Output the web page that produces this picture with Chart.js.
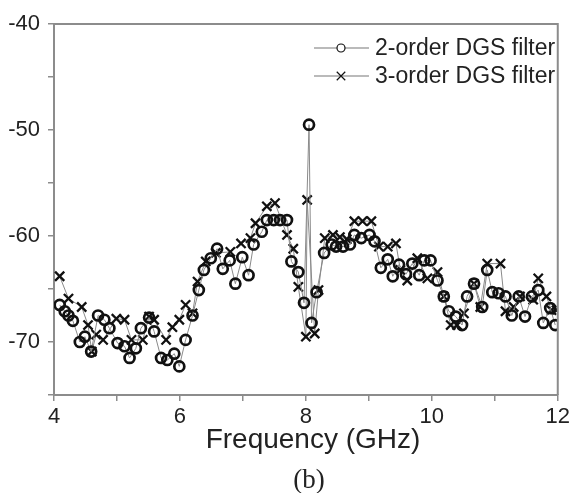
<!DOCTYPE html>
<html>
<head>
<meta charset="utf-8">
<script src="https://cdn.jsdelivr.net/npm/chart.js@4.4.0/dist/chart.umd.min.js"></script>
<style>
  html, body { margin: 0; padding: 0; background: #fff; }
</style>
</head>
<body>
<canvas id="chart" width="573" height="493"></canvas>
<script>
const freq2 = [4.09, 4.17, 4.23, 4.30, 4.41, 4.49, 4.59, 4.70, 4.80, 4.88, 5.01, 5.12, 5.20, 5.30, 5.38, 5.51,
  5.59, 5.70, 5.80, 5.91, 5.99, 6.09, 6.20, 6.30, 6.38, 6.49, 6.59, 6.68, 6.79, 6.88, 6.99, 7.09, 7.17,
  7.30, 7.38, 7.49, 7.59, 7.70, 7.77, 7.88, 7.97, 8.05, 8.09, 8.17, 8.29, 8.41, 8.48, 8.59, 8.70, 8.77,
  8.88, 9.01, 9.09, 9.19, 9.30, 9.38, 9.48, 9.59, 9.69, 9.80, 9.88, 9.98, 10.09, 10.19, 10.27, 10.38,
  10.48, 10.56, 10.67, 10.80, 10.88, 10.96, 11.06, 11.17, 11.27, 11.38, 11.48, 11.59, 11.69, 11.77,
  11.88, 11.96];
const loss2 = [-66.5, -67.1, -67.5, -68.0, -70.0, -69.5, -70.9, -67.5, -67.9, -68.7, -70.1, -70.4, -71.5, -70.6, -68.7, -67.7,
  -69.0, -71.5, -71.7, -71.1, -72.3, -69.8, -67.5, -65.1, -63.2, -62.1, -61.2, -63.1, -62.3, -64.5, -62.0, -63.7, -60.8,
  -59.6, -58.5, -58.5, -58.5, -58.5, -62.4, -63.4, -66.3, -49.5, -68.2, -65.3, -61.6, -60.8, -61.0, -61.0, -60.8, -59.9,
  -60.2, -59.9, -60.5, -63.0, -62.2, -63.8, -62.7, -63.6, -62.6, -63.7, -62.3, -62.3, -64.2, -65.7, -67.1, -67.6,
  -68.4, -65.7, -64.5, -66.7, -63.2, -65.3, -65.4, -65.7, -67.5, -65.7, -67.6, -65.7, -65.1, -68.2,
  -66.8, -68.4];

const freq3 = [4.09, 4.23, 4.44, 4.54, 4.60, 4.67, 4.78, 4.99, 5.12, 5.23, 5.41, 5.51, 5.59, 5.78, 5.88, 5.99,
  6.09, 6.20, 6.28, 6.41, 6.57, 6.80, 6.97, 7.12, 7.20, 7.38, 7.51, 7.70, 7.80, 7.88, 8.00, 8.02, 8.14,
  8.20, 8.30, 8.43, 8.54, 8.65, 8.77, 8.90, 9.04, 9.16, 9.30, 9.43, 9.50, 9.61, 9.77, 9.93, 10.09, 10.19,
  10.30, 10.40, 10.51, 10.67, 10.77, 10.88, 11.09, 11.17, 11.30, 11.40, 11.61, 11.69, 11.82, 11.90, 11.98];
const loss3 = [-63.8, -65.9, -66.7, -68.4, -70.9, -69.3, -69.8, -67.8, -67.9, -69.8, -69.8, -67.6, -67.9, -69.8, -68.6, -67.9,
  -66.5, -67.3, -64.3, -62.4, -61.6, -61.5, -60.7, -60.2, -58.8, -57.2, -56.9, -59.9, -61.2, -64.8, -69.5, -56.6, -69.2,
  -65.1, -60.2, -59.9, -60.1, -60.3, -58.6, -58.6, -58.6, -61.0, -61.0, -60.7, -63.2, -64.2, -62.1, -64.0, -63.4, -65.7,
  -68.4, -68.4, -67.3, -64.5, -66.7, -62.6, -62.6, -67.1, -66.7, -65.7, -66.0, -64.0, -65.7, -67.0, -67.0];

const seriesNames = ['2-order DGS filter', '3-order DGS filter'];
const xTicks = [4, 6, 8, 10, 12];
const yTicks = [-40, -50, -60, -70];

const frameColor = '#8c8c8c';
const sans = '"Liberation Sans", Arial, sans-serif';

const toPoints = (xs, ys) => xs.map((x, i) => ({ x: x, y: ys[i] }));

// box round the plot (top and right sides) plus legend and axis captions
const decorations = {
  id: 'decorations',
  afterDraw(chart) {
    const ctx = chart.ctx;
    const a = chart.chartArea;
    ctx.save();
    ctx.strokeStyle = frameColor;
    ctx.lineWidth = 2;
    ctx.beginPath();
    ctx.moveTo(a.left, a.top);
    ctx.lineTo(a.right, a.top);
    ctx.lineTo(a.right, a.bottom);
    ctx.stroke();

    // legend: line - marker - line, then the name
    chart.data.datasets.forEach((ds, i) => {
      const y = 48 + i * 28;
      ctx.strokeStyle = '#777';
      ctx.lineWidth = 1.2;
      ctx.beginPath();
      ctx.moveTo(314, y);
      ctx.lineTo(369, y);
      ctx.stroke();
      ctx.strokeStyle = '#111';
      ctx.fillStyle = '#fff';
      Chart.helpers.drawPoint(ctx, {
        pointStyle: ds.pointStyle,
        radius: ds.pointStyle === 'circle' ? 4 : 6,
        borderWidth: ds.pointStyle === 'circle' ? 2.4 : 1.6,
        rotation: 0
      }, 341, y);
      ctx.fillStyle = '#222';
      ctx.font = '23px ' + sans;
      ctx.textAlign = 'left';
      ctx.textBaseline = 'middle';
      ctx.fillText(ds.label, 375, y + 1);
    });

    ctx.fillStyle = '#222';
    ctx.textAlign = 'center';
    ctx.textBaseline = 'middle';
    ctx.font = '28px ' + sans;
    ctx.fillText('Frequency (GHz)', 313, 440);
    ctx.font = '27px "Liberation Serif", "Times New Roman", serif';
    ctx.fillText('(b)', 309, 481);
    ctx.restore();
  }
};

const ctx = document.getElementById('chart').getContext('2d');
new Chart(ctx, {
  type: 'line',
  data: {
    datasets: [
      {
        label: seriesNames[0],
        data: toPoints(freq2, loss2),
        borderColor: '#8a8a8a',
        borderWidth: 1,
        pointStyle: 'circle',
        pointRadius: 5,
        pointBorderWidth: 2.7,
        pointBorderColor: '#111',
        pointBackgroundColor: 'rgba(255,255,255,0)',
        tension: 0
      },
      {
        label: seriesNames[1],
        data: toPoints(freq3, loss3),
        borderColor: '#8a8a8a',
        borderWidth: 1,
        pointStyle: 'crossRot',
        pointRadius: 6.5,
        pointBorderWidth: 2.3,
        pointBorderColor: '#111',
        pointBackgroundColor: '#111',
        tension: 0
      }
    ]
  },
  options: {
    responsive: false,
    animation: false,
    devicePixelRatio: 1,
    layout: { padding: { top: 24, right: 12, left: 0, bottom: 0 } },
    plugins: {
      legend: { display: false },
      tooltip: { enabled: false }
    },
    scales: {
      x: {
        type: 'linear',
        min: 4,
        max: 12,
        afterFit: (scale) => { scale.height = 98; },
        grid: { drawOnChartArea: false, drawTicks: true, tickLength: 6, color: frameColor, lineWidth: 1.5 },
        border: { display: true, color: frameColor, width: 2 },
        ticks: {
          stepSize: 1,
          autoSkip: false,
          maxRotation: 0,
          padding: 3,
          color: '#222',
          font: { family: sans, size: 22 },
          callback: (v) => xTicks.includes(v) ? String(v) : ''
        }
      },
      y: {
        min: -75,
        max: -40,
        afterFit: (scale) => { scale.width = 54; },
        grid: { drawOnChartArea: false, drawTicks: true, tickLength: 6, color: frameColor, lineWidth: 1.5 },
        border: { display: true, color: frameColor, width: 2 },
        ticks: {
          stepSize: 5,
          autoSkip: false,
          padding: 8,
          color: '#222',
          font: { family: sans, size: 22 },
          callback: (v) => yTicks.includes(v) ? String(v) : ''
        }
      }
    }
  },
  plugins: [decorations]
});
</script>
</body>
</html>
